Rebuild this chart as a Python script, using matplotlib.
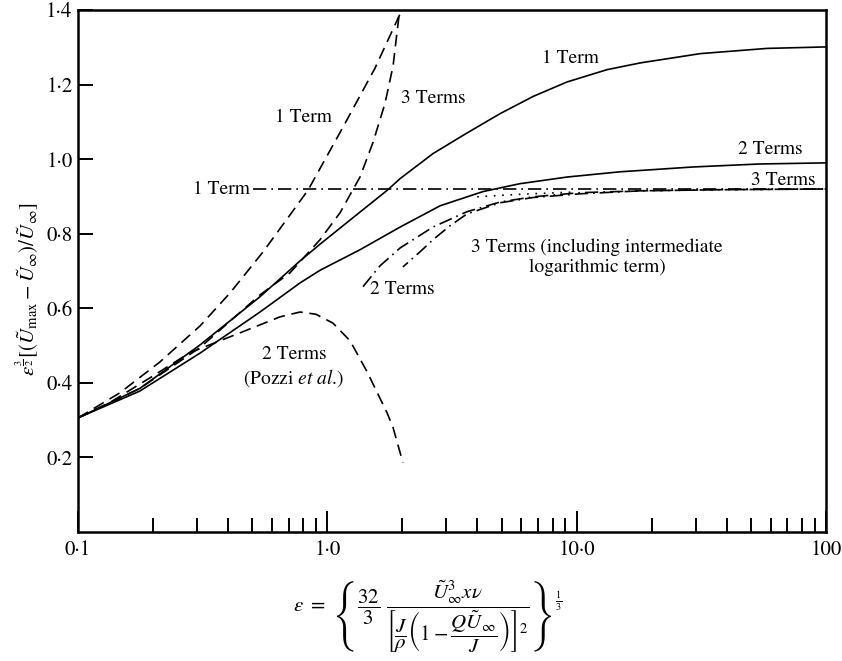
import numpy as np
import matplotlib
matplotlib.use("Agg")
import matplotlib.pyplot as plt
from matplotlib.ticker import FixedLocator, NullFormatter

plt.rcParams['font.family'] = ['STIXGeneral', 'DejaVu Serif']
plt.rcParams['mathtext.fontset'] = 'stix'

# small-epsilon expansions
one_term_small_x = [0.1, 0.147, 0.213, 0.309, 0.407, 0.552, 0.837, 1.156, 1.553, 1.99]
one_term_small_y = [0.306, 0.373, 0.456, 0.553, 0.641, 0.751, 0.917, 1.086, 1.244, 1.40]

three_term_small_x = [0.1, 0.177, 0.309, 0.537, 0.708, 0.935, 1.124, 1.352, 1.525, 1.704, 1.835, 1.95]
three_term_small_y = [0.306, 0.385, 0.495, 0.636, 0.695, 0.784, 0.856, 0.952, 1.045, 1.150, 1.250, 1.40]

pozzi_x = [0.1, 0.134, 0.195, 0.281, 0.446, 0.646, 0.777, 0.90, 1.054, 1.233, 1.443, 1.735, 1.835, 2.01]
pozzi_y = [0.306, 0.347, 0.414, 0.481, 0.534, 0.577, 0.590, 0.584, 0.560, 0.513, 0.430, 0.320, 0.280, 0.186]

# numerical solution, 1 and 2 terms
sol1_x = [0.1, 0.177, 0.309, 0.537, 0.777, 0.935, 1.352, 1.735, 1.96, 2.655, 3.63, 4.93,
          6.68, 9.15, 13.24, 17.96, 31.3, 58.0, 100]
sol1_y = [0.306, 0.385, 0.502, 0.631, 0.727, 0.772, 0.858, 0.916, 0.948, 1.015, 1.070, 1.122,
          1.168, 1.207, 1.240, 1.258, 1.283, 1.297, 1.301]

sol2_x = [0.1, 0.177, 0.309, 0.537, 0.777, 0.935, 1.352, 1.96, 2.835, 4.21, 5.9, 9.15,
          14.9, 29.3, 54.0, 100]
sol2_y = [0.306, 0.378, 0.480, 0.590, 0.668, 0.702, 0.757, 0.818, 0.875, 0.913, 0.934, 0.952,
          0.966, 0.979, 0.987, 0.990]

# large-epsilon expansions
one_term_large_x = [0.503, 100]
one_term_large_y = [0.92, 0.92]

two_term_large_x = [1.39, 1.627, 1.96, 2.655, 3.63, 4.93, 6.68, 10.3, 18.0, 37.6, 100]
two_term_large_y = [0.658, 0.714, 0.762, 0.818, 0.859, 0.885, 0.899, 0.910, 0.915, 0.918, 0.92]

three_term_large_x = [2.01, 2.35, 2.655, 3.1, 3.63, 4.93, 6.68, 10.3, 18.0, 37.6, 100]
three_term_large_y = [0.711, 0.751, 0.784, 0.821, 0.853, 0.883, 0.897, 0.907, 0.915, 0.918, 0.92]

dotted_x = [3.99, 5.0, 6.5, 8.5, 10.0]
dotted_y = [0.899, 0.903, 0.907, 0.910, 0.912]

xtick_vals = [0.1, 1.0, 10.0, 100.0]
xtick_labels = ['0·1', '1·0', '10·0', '100']
ytick_vals = [0.2, 0.4, 0.6, 0.8, 1.0, 1.2, 1.4]
ytick_labels = ['0·2', '0·4', '0·6', '0·8', '1·0', '1·2', '1·4']

fig = plt.figure(figsize=(8.42, 6.61), dpi=100)
ax = fig.add_axes([78/842, 1-532/661, 748/842, 522/661])

lw = 1.2
dashed = (0, (7, 4))
dashdot = (0, (8, 3, 1, 3))
ax.plot(one_term_small_x, one_term_small_y, color='k', lw=lw, ls=dashed)
ax.plot(three_term_small_x, three_term_small_y, color='k', lw=lw, ls=dashed)
ax.plot(pozzi_x, pozzi_y, color='k', lw=lw, ls=dashed)
ax.plot(sol1_x, sol1_y, color='k', lw=lw)
ax.plot(sol2_x, sol2_y, color='k', lw=lw)
ax.plot(one_term_large_x, one_term_large_y, color='k', lw=lw, ls=dashdot)
ax.plot(two_term_large_x, two_term_large_y, color='k', lw=lw, ls=dashdot)
ax.plot(three_term_large_x, three_term_large_y, color='k', lw=lw, ls=(4, (8, 3, 1, 3)))
ax.plot(dotted_x, dotted_y, color='k', lw=lw, ls=(0, (1, 4)))

ax.set_xscale('log')
ax.set_xlim(0.1, 100)
ax.set_ylim(0.0, 1.4)

ax.xaxis.set_major_locator(FixedLocator(xtick_vals))
ax.set_xticklabels(xtick_labels, fontsize=15)
minors = [m * d for d in [0.1, 1.0, 10.0] for m in range(2, 10)]
ax.xaxis.set_minor_locator(FixedLocator(minors))
ax.xaxis.set_minor_formatter(NullFormatter())
ax.set_yticks(ytick_vals)
ax.set_yticklabels(ytick_labels, fontsize=15)

ax.tick_params(axis='x', which='major', direction='in', length=15, width=1.4, pad=6)
ax.tick_params(axis='x', which='minor', direction='in', length=10, width=1.4)
ax.tick_params(axis='y', which='major', direction='in', length=11, width=1.4, pad=4)
ax.tick_params(top=False, right=False, which='both')
for s in ax.spines.values():
    s.set_linewidth(1.8)

fs = 14
ax.text(9.41, 1.271, '1 Term', fontsize=fs, ha='center', va='center')
ax.text(0.799, 1.111, '1 Term', fontsize=fs, ha='center', va='center')
ax.text(2.655, 1.164, '3 Terms', fontsize=fs, ha='center', va='center')
ax.text(0.49, 0.92, '1 Term', fontsize=fs, ha='right', va='center')
ax.text(80.2, 1.025, '2 Terms', fontsize=fs, ha='right', va='center')
ax.text(90.4, 0.944, '3 Terms', fontsize=fs, ha='right', va='center')
ax.text(12.07, 0.737, '3 Terms (including intermediate\nlogarithmic term)', fontsize=fs,
        ha='center', va='center', multialignment='center', linespacing=1.25)
ax.text(1.483, 0.650, '2 Terms', fontsize=fs, ha='left', va='center')
ax.text(0.735, 0.442, '2 Terms\n(Pozzi $\\mathit{et\\ al}$.)', fontsize=fs,
        ha='center', va='center', multialignment='center', linespacing=1.25)

fig.text(27/842, 1-289/661,
         r'$\epsilon^{\frac{3}{2}}[(\tilde{U}_{\max}-\tilde{U}_{\infty})/\tilde{U}_{\infty}]$',
         rotation=90, fontsize=15, ha='center', va='center')
fig.text(428/842, 1-617/661,
         r'$\epsilon\ =\ \left\{\dfrac{32}{3}\ \dfrac{\tilde{U}_{\infty}^{3}x\nu}'
         r'{\left[\dfrac{J}{\rho}\left(1-\dfrac{Q\tilde{U}_{\infty}}{J}\right)\right]^{2}}'
         r'\right\}^{\frac{1}{3}}$',
         fontsize=15, ha='center', va='center')

fig.savefig('out.png', dpi=100)
